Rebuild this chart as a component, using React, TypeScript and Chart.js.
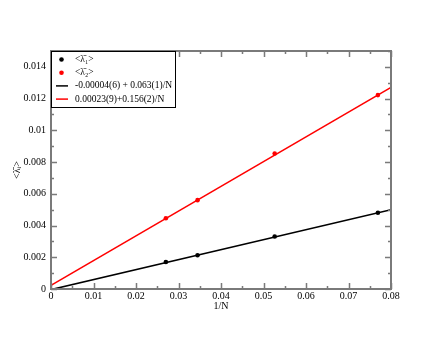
import React, { useEffect, useRef } from "react";
import { Chart, registerables } from "chart.js";

Chart.register(...registerables);

const invN = [0.02703, 0.03448, 0.05263, 0.07692];
const lambda1 = [0.0017, 0.00213, 0.00331, 0.00481];
const lambda2 = [0.00446, 0.0056, 0.00854, 0.01222];
const fitX = [0, 0.08];
const fit1 = [-0.00004, 0.005];
const fit2 = [0.00023, 0.01271];
const xTicks = [0, 0.01, 0.02, 0.03, 0.04, 0.05, 0.06, 0.07, 0.08];
const xTickLabels = ["0", "0.01", "0.02", "0.03", "0.04", "0.05", "0.06", "0.07", "0.08"];
const yTicks = [0, 0.002, 0.004, 0.006, 0.008, 0.01, 0.012, 0.014];
const yTickLabels = ["0", "0.002", "0.004", "0.006", "0.008", "0.01", "0.012", "0.014"];
const seriesLabels = [
  "<\u03BB\u0304\u2081>",
  "<\u03BB\u0304\u2082>",
  "-0.00004(6) + 0.063(1)/N",
  "0.00023(9)+0.156(2)/N",
];
const xTitle = "1/N";
const yTitle = "<\u03BB\u0304\u1D62>";

const FONT = "'Liberation Serif', 'Times New Roman', serif";

const framePlugin = {
  id: "frameLegend",
  afterDraw(chart: any) {
    const { ctx, chartArea, scales } = chart;
    const { left, right, top, bottom } = chartArea;
    const xs = scales.x;
    const ys = scales.y;
    ctx.save();
    ctx.strokeStyle = "#7a7a7a";
    ctx.lineWidth = 2;
    ctx.strokeRect(left, top, right - left, bottom - top);
    ctx.lineWidth = 1.5;
    const major = 6;
    const minor = 3;
    ctx.beginPath();
    const drawX = (v: number, len: number) => {
      const px = Math.round(xs.getPixelForValue(v)) + 0.5;
      ctx.moveTo(px, bottom);
      ctx.lineTo(px, bottom - len);
      ctx.moveTo(px, top);
      ctx.lineTo(px, top + len);
    };
    const drawY = (v: number, len: number) => {
      const py = Math.round(ys.getPixelForValue(v)) + 0.5;
      ctx.moveTo(left, py);
      ctx.lineTo(left + len, py);
      ctx.moveTo(right, py);
      ctx.lineTo(right - len, py);
    };
    xTicks.forEach((v, i) => {
      drawX(v, major);
      if (i < xTicks.length - 1) drawX((v + xTicks[i + 1]) / 2, minor);
    });
    yTicks.forEach((v, i) => {
      drawY(v, major);
      const next = i < yTicks.length - 1 ? yTicks[i + 1] : v + (v - yTicks[i - 1]);
      drawY((v + next) / 2, minor);
    });
    ctx.stroke();

    // legend
    const lx = left;
    const ly = top;
    const lw = 124;
    const lh = 56;
    ctx.fillStyle = "#ffffff";
    ctx.fillRect(lx, ly, lw, lh);
    ctx.strokeStyle = "#000000";
    ctx.lineWidth = 1;
    ctx.strokeRect(lx + 0.5, ly + 0.5, lw, lh);
    ctx.font = `9.5px ${FONT}`;
    ctx.textBaseline = "middle";
    ctx.textAlign = "left";
    chart.data.datasets.forEach((ds: any, i: number) => {
      const cy = ly + 8.5 + i * 13.2;
      const color = ds.borderColor;
      if (ds.showLine === false) {
        ctx.fillStyle = color;
        ctx.beginPath();
        ctx.arc(lx + 10.5, cy, 2.3, 0, Math.PI * 2);
        ctx.fill();
      } else {
        ctx.strokeStyle = color;
        ctx.lineWidth = 1.5;
        ctx.beginPath();
        ctx.moveTo(lx + 5, cy);
        ctx.lineTo(lx + 17, cy);
        ctx.stroke();
      }
      ctx.fillStyle = "#000000";
      ctx.fillText(ds.label, lx + 24, cy);
    });
    ctx.restore();
  },
};

export default function App() {
  const ref = useRef<HTMLCanvasElement | null>(null);
  useEffect(() => {
    if (!ref.current) return;
    const pts = (xsArr: number[], ysArr: number[]) => xsArr.map((x, i) => ({ x, y: ysArr[i] }));
    const chart = new Chart(ref.current, {
      type: "scatter",
      data: {
        datasets: [
          {
            label: seriesLabels[0],
            data: pts(invN, lambda1),
            borderColor: "#000000",
            backgroundColor: "#000000",
            pointRadius: 2.3,
            pointBorderWidth: 0,
            showLine: false,
            order: 0,
          },
          {
            label: seriesLabels[1],
            data: pts(invN, lambda2),
            borderColor: "#ff0000",
            backgroundColor: "#ff0000",
            pointRadius: 2.3,
            pointBorderWidth: 0,
            showLine: false,
            order: 0,
          },
          {
            type: "line",
            label: seriesLabels[2],
            data: pts(fitX, fit1),
            borderColor: "#000000",
            backgroundColor: "#000000",
            borderWidth: 1.5,
            pointRadius: 0,
            showLine: true,
            order: 1,
          } as any,
          {
            type: "line",
            label: seriesLabels[3],
            data: pts(fitX, fit2),
            borderColor: "#ff0000",
            backgroundColor: "#ff0000",
            borderWidth: 1.5,
            pointRadius: 0,
            showLine: true,
            order: 1,
          } as any,
        ],
      },
      options: {
        animation: false,
        responsive: false,
        layout: { padding: { top: 51, right: 49, left: 0, bottom: 0 } },
        plugins: { legend: { display: false }, tooltip: { enabled: false } },
        scales: {
          x: {
            type: "linear",
            min: 0,
            max: 0.08,
            afterBuildTicks: (s: any) => {
              s.ticks = xTicks.map((v) => ({ value: v }));
            },
            afterFit: (s: any) => {
              s.height = 51;
            },
            grid: { display: false, drawTicks: false },
            border: { display: false },
            ticks: {
              padding: 1,
              maxRotation: 0,
              autoSkip: false,
              color: "#000",
              font: { family: FONT, size: 10 },
              callback: (_v: any, i: number) => xTickLabels[i],
            },
            title: {
              display: true,
              text: xTitle,
              color: "#000",
              font: { family: FONT, size: 10 },
              padding: { top: 0, bottom: 28 },
            },
          },
          y: {
            type: "linear",
            min: 0,
            max: 0.015,
            afterBuildTicks: (s: any) => {
              s.ticks = yTicks.map((v) => ({ value: v }));
            },
            afterFit: (s: any) => {
              s.width = 51;
            },
            grid: { display: false, drawTicks: false },
            border: { display: false },
            ticks: {
              padding: 5,
              autoSkip: false,
              color: "#000",
              font: { family: FONT, size: 10 },
              callback: (_v: any, i: number) => yTickLabels[i],
            },
            title: {
              display: true,
              text: yTitle,
              color: "#000",
              font: { family: FONT, size: 10 },
              padding: { top: 11, bottom: 0 },
            },
          },
        },
      },
      plugins: [framePlugin],
    } as any);
    return () => chart.destroy();
  }, []);
  return (
    <div style={{ position: "fixed", left: 0, top: 0, width: 440, height: 340, background: "#fff" }}>
      <canvas ref={ref} width={440} height={340} style={{ width: 440, height: 340, display: "block" }} />
    </div>
  );
}
